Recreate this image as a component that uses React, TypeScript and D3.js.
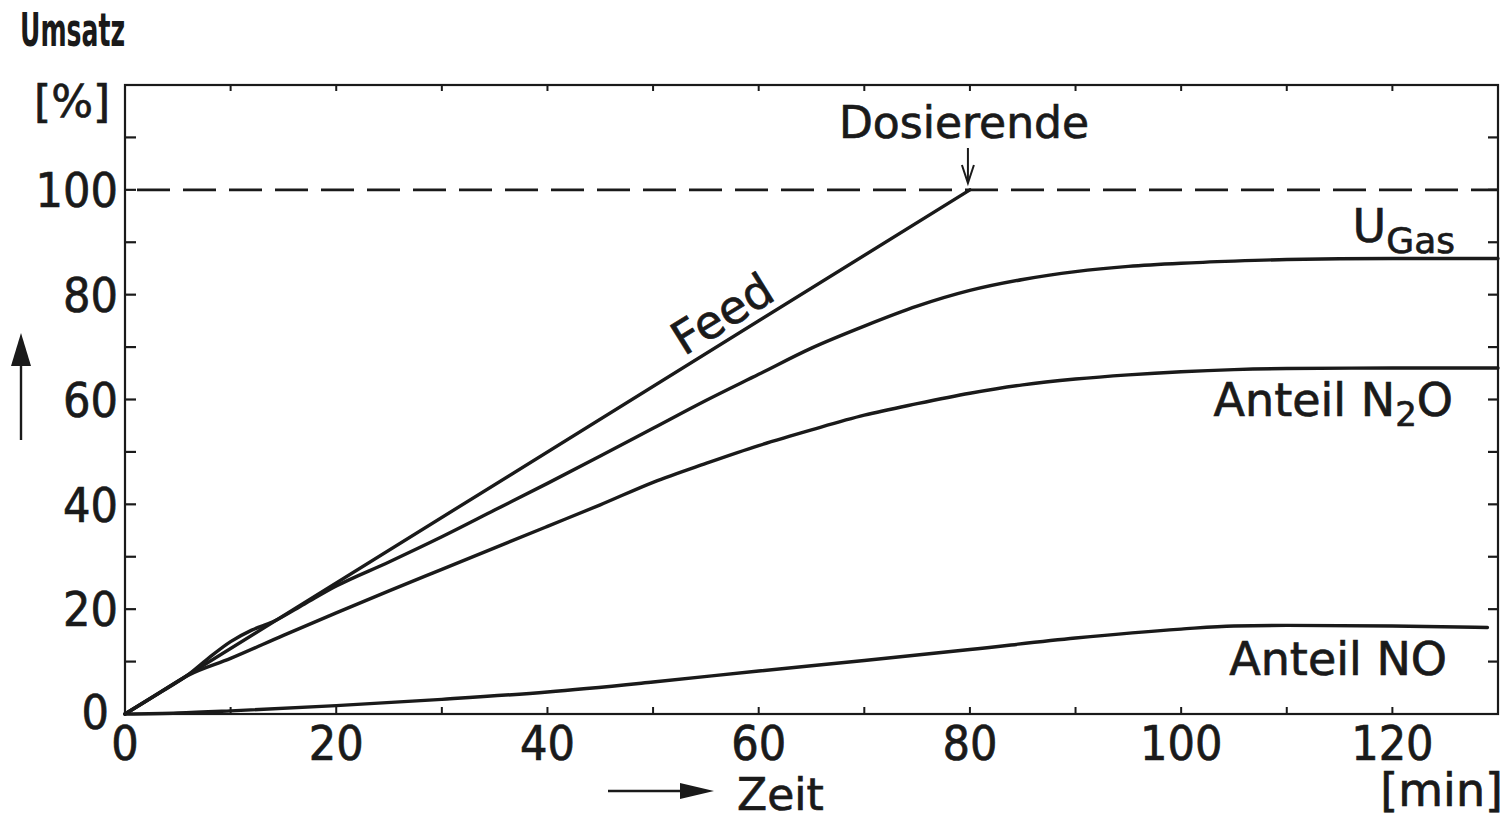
import * as d3 from 'd3';

// Umsatz [%] over Zeit [min]
const feedTime = [0, 80];
const feedValue = [0, 100];

const uGasTime = [0, 3, 6, 8, 10, 12, 14, 17, 20, 25, 30, 35, 40, 45, 50, 55, 60, 65, 70, 75, 80, 85, 90, 95, 100, 105, 110, 120, 130];
const uGasValue = [0, 3.7, 7.5, 10.8, 13.8, 16.0, 17.6, 21.0, 24.4, 29.0, 33.8, 38.9, 44.0, 49.2, 54.5, 59.8, 64.8, 69.8, 74.0, 77.8, 80.8, 82.9, 84.4, 85.4, 86.0, 86.4, 86.7, 86.9, 86.9];

const n2oTime = [0, 3, 6, 10, 15, 20, 25, 30, 35, 40, 45, 50, 55, 60, 65, 70, 75, 80, 85, 90, 95, 100, 105, 110, 120, 130];
const n2oValue = [0, 3.7, 7.4, 10.6, 15.0, 19.3, 23.5, 27.6, 31.7, 35.8, 39.9, 44.2, 47.8, 51.2, 54.2, 57.0, 59.2, 61.2, 62.8, 63.9, 64.7, 65.3, 65.7, 65.9, 66.0, 66.0];

const noTime = [0, 5, 10, 20, 30, 40, 50, 60, 70, 80, 90, 100, 105, 110, 120, 129];
const noValue = [0, 0.2, 0.6, 1.6, 2.8, 4.2, 6.1, 8.2, 10.2, 12.3, 14.5, 16.2, 16.8, 16.9, 16.8, 16.5];

const xTickLabels = [0, 20, 40, 60, 80, 100, 120];
const yTickLabels = [20, 40, 60, 80, 100];
const dosierende = 80;

const labelFont = '"DejaVu Sans", sans-serif';
const numFont = '"Liberation Sans Narrow", "DejaVu Sans Condensed", sans-serif';
const ink = '#1a1a1a';
// pen lettering is a bit heavier than the fonts
const pen = { stroke: ink, strokeWidth: 0.7 };

const zip = (t: number[], v: number[]): [number, number][] => t.map((d, i) => [d, v[i]]);

export default function App() {
  const x = d3.scaleLinear().domain([0, 130]).range([125, 1498]);
  const y = d3.scaleLinear().domain([0, 120]).range([714, 85]);

  const line = d3.line<[number, number]>()
    .x(d => x(d[0]))
    .y(d => y(d[1]))
    .curve(d3.curveMonotoneX);

  const series = [
    zip(feedTime, feedValue),
    zip(uGasTime, uGasValue),
    zip(n2oTime, n2oValue),
    zip(noTime, noValue),
  ];

  const minorX = d3.range(10, 130, 10);
  const minorY = d3.range(10, 120, 10);

  // angle of the feed line on screen
  const feedAngle = Math.atan2(y(100) - y(0), x(80) - x(0)) * 180 / Math.PI;
  const feedLabelT = 57.8;

  return (
    <svg width={1512} height={819} style={{ position: 'absolute', left: 0, top: 0, background: '#fff' }}>
      {/* frame */}
      <rect x={x(0)} y={y(120)} width={x(130) - x(0)} height={y(0) - y(120)}
        fill="none" stroke={ink} strokeWidth={2.2} />

      {/* inward ticks */}
      {minorX.map(t => (
        <g key={'xt' + t}>
          <line x1={x(t)} x2={x(t)} y1={y(0)} y2={y(0) - 7} stroke={ink} strokeWidth={2} />
          <line x1={x(t)} x2={x(t)} y1={y(120)} y2={y(120) + 6} stroke={ink} strokeWidth={2} />
        </g>
      ))}
      {minorY.map(v => (
        <g key={'yt' + v}>
          <line x1={x(0)} x2={x(0) + 11} y1={y(v)} y2={y(v)} stroke={ink} strokeWidth={2.2} />
          <line x1={x(130)} x2={x(130) - 10} y1={y(v)} y2={y(v)} stroke={ink} strokeWidth={2.2} />
        </g>
      ))}

      {/* 100 % reference */}
      <line x1={x(0)} x2={x(130)} y1={y(100)} y2={y(100)} stroke={ink} strokeWidth={2.6}
        strokeDasharray="33 13" strokeDashoffset={-12} />

      {/* curves */}
      {series.map((s, i) => (
        <path key={i} d={line(s) ?? ''} fill="none" stroke={ink} strokeWidth={3.4}
          strokeLinejoin="round" strokeLinecap="round" />
      ))}

      {/* tick labels */}
      {xTickLabels.map(t => (
        <text key={'xl' + t} x={x(t)} y={760} textAnchor="middle" fontFamily={numFont}
          fontSize={48} fill={ink} {...pen}>{t}</text>
      ))}
      {yTickLabels.map(v => (
        <text key={'yl' + v} x={118} y={y(v)} dy="0.36em" textAnchor="end" fontFamily={numFont}
          fontSize={48} fill={ink} {...pen}>{v}</text>
      ))}
      <text x={109} y={y(0) - 2} dy="0.36em" textAnchor="end" fontFamily={numFont}
        fontSize={48} fill={ink} {...pen}>0</text>

      {/* axis titles */}
      <text x={20} y={46} fontFamily={numFont} fontWeight="bold" fontSize={46}
        textLength={105} lengthAdjust="spacingAndGlyphs" fill={ink}>Umsatz</text>
      <text x={34} y={117} fontFamily={labelFont} fontSize={44} fill={ink} {...pen}>[%]</text>
      <text x={1503} y={806} textAnchor="end" fontFamily={labelFont} fontSize={46} fill={ink} {...pen}>[min]</text>
      <text x={737} y={810} fontFamily={labelFont} fontSize={44} fill={ink} {...pen}>Zeit</text>

      {/* axis arrows */}
      <line x1={608} x2={685} y1={791} y2={791} stroke={ink} strokeWidth={2.4} />
      <path d="M680,783 L714,791 L680,799 Z" fill={ink} />
      <line x1={21} x2={21} y1={440} y2={360} stroke={ink} strokeWidth={2.4} />
      <path d="M11,366 L21,333 L31,366 Z" fill={ink} />

      {/* curve labels */}
      <text transform={`translate(${x(feedLabelT)},${y(feedLabelT * 1.25)}) rotate(${feedAngle})`}
        dy={-9} textAnchor="middle" fontFamily={labelFont} fontSize={46} fill={ink} {...pen}>Feed</text>

      <text x={964} y={138} textAnchor="middle" fontFamily={labelFont} fontSize={44} fill={ink} {...pen}>Dosierende</text>
      <line x1={x(dosierende) - 2} x2={x(dosierende) - 2} y1={148} y2={180} stroke={ink} strokeWidth={2} />
      <path d={`M${x(dosierende) - 8},165 L${x(dosierende) - 2},183 L${x(dosierende) + 4},165`} fill="none" stroke={ink} strokeWidth={2} />

      <text x={1455} y={242} textAnchor="end" fontFamily={labelFont} fontSize={46} fill={ink} {...pen}>
        U<tspan fontSize={36} dy={11}>Gas</tspan>
      </text>
      <text x={1453} y={416} textAnchor="end" fontFamily={labelFont} fontSize={46} fill={ink} {...pen}>
        Anteil N<tspan fontSize={34} dy={10}>2</tspan><tspan dy={-10}>O</tspan>
      </text>
      <text x={1447} y={675} textAnchor="end" fontFamily={labelFont} fontSize={46} fill={ink} {...pen}>Anteil NO</text>
    </svg>
  );
}
